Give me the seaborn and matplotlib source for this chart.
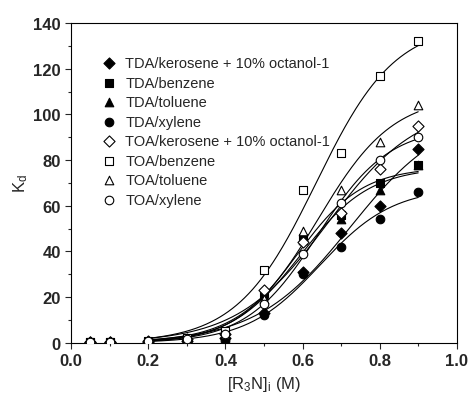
import numpy as np
import pandas as pd
import matplotlib
matplotlib.use("Agg")
import matplotlib.pyplot as plt
import seaborn as sns
from matplotlib.ticker import MultipleLocator

# concentrations of amine (M)
conc = [0.05, 0.1, 0.2, 0.3, 0.4, 0.5, 0.6, 0.7, 0.8, 0.9]

# distribution coefficients
tda_kero = [0.3, 0.3, 0.5, 1.0, 2.0, 13, 31, 48, 60, 85]
tda_benz = [0.3, 0.3, 0.6, 1.5, 3.5, 22, 46, 56, 70, 78]
tda_tol = [0.3, 0.3, 0.6, 1.2, 3.0, 21, 45, 54, 67, 78]
tda_xyl = [0.3, 0.3, 0.5, 0.8, 1.0, 12, 30, 42, 54, 66]
toa_kero = [0.5, 0.5, 1.0, 1.5, 4.0, 23, 44, 57, 76, 95]
toa_benz = [0.5, 0.5, 1.0, 2.0, 5.0, 32, 67, 83, 117, 132]
toa_tol = [0.5, 0.5, 1.0, 1.5, 4.0, 19, 49, 67, 88, 104]
toa_xyl = [0.5, 0.5, 1.0, 1.5, 4.0, 17, 39, 61, 80, 90]

labels = ["TDA/kerosene + 10% octanol-1", "TDA/benzene", "TDA/toluene", "TDA/xylene",
          "TOA/kerosene + 10% octanol-1", "TOA/benzene", "TOA/toluene", "TOA/xylene"]
series = [tda_kero, tda_benz, tda_tol, tda_xyl, toa_kero, toa_benz, toa_tol, toa_xyl]
markers = ["D", "s", "^", "o", "D", "s", "^", "o"]
filled = [True, True, True, True, False, False, False, False]


def fit_sigmoid(x, y):
    # Boltzmann type fit, amplitude solved linearly on a grid of centre/width
    x = np.asarray(x)
    y = np.asarray(y)
    best = None
    for x0 in np.linspace(0.45, 1.0, 111):
        for w in np.linspace(0.03, 0.25, 89):
            f = 1.0 / (1.0 + np.exp(-(x - x0) / w))
            a = (f @ y) / (f @ f)
            r = np.sum((a * f - y) ** 2)
            if best is None or r < best[0]:
                best = (r, a, x0, w)
    return best[1:]


sns.set_style("ticks")
plt.rcParams["font.family"] = ["Liberation Sans", "DejaVu Sans"]
plt.rcParams["mathtext.fontset"] = "custom"
plt.rcParams["mathtext.rm"] = "Liberation Sans"
plt.rcParams["mathtext.it"] = "Liberation Sans"

fig = plt.figure(figsize=(4.68, 4.06), dpi=100)
ax = fig.add_axes([0.152, 0.153, 0.824, 0.788])

xs = np.linspace(0.2, 0.9, 200)
for lab, vals, m, fl in zip(labels, series, markers, filled):
    a, x0, w = fit_sigmoid(conc, vals)
    curve = pd.DataFrame({"x": xs, "y": a / (1.0 + np.exp(-(xs - x0) / w))})
    sns.lineplot(data=curve, x="x", y="y", ax=ax, color="black", lw=0.8)
    df = pd.DataFrame({"x": conc, "y": vals})
    sz = 38 if m != "D" else 32
    sns.scatterplot(data=df, x="x", y="y", ax=ax, marker=m, s=sz,
                    facecolor="black" if fl else "white", edgecolor="black",
                    linewidth=0.8, label=lab, zorder=3)

ax.set_xlim(0.0, 1.0)
ax.set_ylim(0, 140)
ax.xaxis.set_major_locator(MultipleLocator(0.2))
ax.xaxis.set_minor_locator(MultipleLocator(0.1))
ax.yaxis.set_major_locator(MultipleLocator(20))
ax.yaxis.set_minor_locator(MultipleLocator(10))
ax.xaxis.set_major_formatter(matplotlib.ticker.FormatStrFormatter("%.1f"))
ax.tick_params(which="major", direction="out", length=4, width=0.8)
ax.tick_params(which="minor", direction="out", length=2.5, width=0.8)
for lbl in ax.get_xticklabels() + ax.get_yticklabels():
    lbl.set_fontweight("bold")
    lbl.set_fontsize(12)
for sp in ax.spines.values():
    sp.set_linewidth(0.8)
    sp.set_color("black")

ax.set_xlabel(r"[R$_\mathrm{3}$N]$_\mathrm{i}$ (M)", fontsize=12)
ax.set_ylabel(r"K$_\mathrm{d}$", fontsize=12, labelpad=2)

leg = ax.legend(loc="upper left", bbox_to_anchor=(0.065, 0.915), frameon=False,
                fontsize=10.5, handletextpad=0.6, labelspacing=0.38,
                borderaxespad=0, handlelength=1.0)

fig.savefig("out.png", dpi=100)
